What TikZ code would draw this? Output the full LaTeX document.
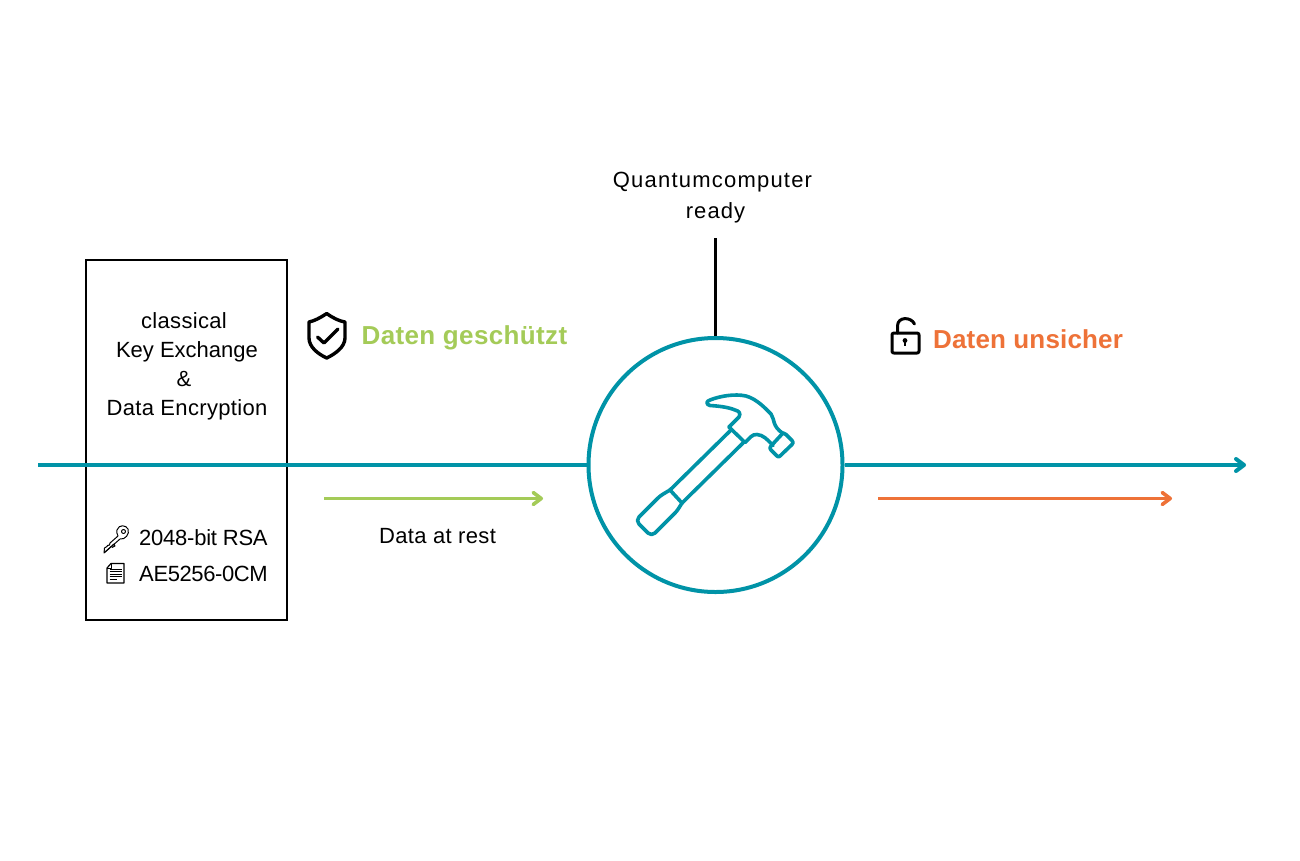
\documentclass[tikz,border=0pt]{standalone}
\usepackage{fontspec}
\setmainfont{Liberation Sans}
\usetikzlibrary{arrows.meta}
\definecolor{teal1}{HTML}{0093A7}
\definecolor{green1}{HTML}{A4CB58}
\definecolor{orange1}{HTML}{EE7238}
\newcommand{\lsp}[1]{\addfontfeature{LetterSpace=#1}}
\tikzset{
  x=1pt,y=-1pt,
  body/.style={font=\fontsize{22}{26}\selectfont,inner sep=0pt,text=black,anchor=base},
  big/.style={font=\fontsize{26}{30}\selectfont\bfseries,inner sep=0pt,anchor=base west},
  flow/.style={line width=4pt,teal1,-{Straight Barb[round,length=8pt,width=12pt,line width=4pt]}},
  plain/.style={line width=4pt,teal1},
  hint/.style={line width=3.6pt,-{Straight Barb[round,length=8pt,width=12pt,line width=3.6pt]}},
  hammer/.style={line width=3.6pt,teal1,line join=round,line cap=round},
  thinicon/.style={line width=1pt,black,line join=round},
  icon/.style={line width=3.4pt,black,line join=round,line cap=round},
}
\begin{document}
\begin{tikzpicture}
\useasboundingbox (0,0) rectangle (1300,860);
\fill[white] (0,0) rectangle (1300,860);

% key box
\node[draw=black,line width=2.8pt,minimum width=201pt,minimum height=360pt,inner sep=0pt] (box) at (186.5,440) {};

% connectors
\node[draw=teal1,line width=4pt,circle,minimum size=254pt,inner sep=0pt,fill=white] (qc) at (715.5,465) {};
\coordinate (start) at (38,465);
\coordinate (end) at (1246,465);
\coordinate (top) at (715.5,238);
\draw[plain] (start) -- (qc.west);
\draw[flow] (qc.east) -- (end);
\draw[line width=3.6pt,black] (top) -- (qc.north);

\coordinate (g1) at (324,498.5);
\coordinate (g2) at (543,498.5);
\coordinate (o1) at (878,498.5);
\coordinate (o2) at (1172,498.5);
\draw[hint,green1] (g1) -- (g2);
\draw[hint,orange1] (o1) -- (o2);

% texts
\node[body] (t1) at (712.5,187) {\lsp{5.5}Quantumcomputer};
\node[body] (t2) at (715.5,218) {\lsp{5}ready};
\node[body] (c1) at (184,328) {\lsp{1.5}classical};
\node[body] (c2) at (187,357) {Key Exchange};
\node[body] (c3) at (184,386) {\&};
\node[body] (c4) at (187,415) {\lsp{1.5}Data Encryption};
\node[body,anchor=base west] (k1) at (139,545) {\lsp{-1.1}2048-bit RSA};
\node[body,anchor=base west] (k2) at (139,581) {\lsp{-1.8}AE5256-0CM};
\node[body] (rest) at (437.5,543) {\lsp{1.6}Data at rest};
\node[big,text=green1] (safe) at (361.5,344) {\lsp{1.4}Daten geschützt};
\node[big,text=orange1] (unsafe) at (933,348) {\lsp{0.6}Daten unsicher};

% hammer
\draw[hammer]
  (729,427) -- (739,417) .. controls (741,413) and (739,411) .. (735,410)
  .. controls (728,407) and (718,406) .. (710,405.5)
  .. controls (706,404.5) and (706,401) .. (710,400)
  .. controls (720,396) and (735,393.5) .. (746,396)
  .. controls (757,399) and (766,409) .. (771,414)
  .. controls (775,420) and (772,426) .. (783,433.5);
\draw[hammer] (729,427) -- (745,442.5)
  .. controls (750,438) and (752,434) .. (757,434.5)
  .. controls (763,435) and (767,439) .. (773,445.5);
\draw[hammer] (783,433) -- (786,434.5) -- (792,440.5) .. controls (793.5,442) and (793.5,443) .. (792,444.5)
  -- (780,456) .. controls (779,457) and (778,457) .. (777,456)
  -- (771,450) .. controls (769.5,448.5) and (769.5,447.5) .. (771,446) -- cycle;
\draw[hammer] (731,430) -- (670,490);
\draw[hammer] (743,443) -- (682,503);
\draw[hammer] (670,490) -- (682,503);
\draw[hammer] (670,490) .. controls (665,493) and (661,495) .. (658,498)
  -- (639,517) .. controls (637,519) and (637,522) .. (639,524)
  -- (648,533) .. controls (650,535) and (653,535) .. (655,533)
  -- (675,513) .. controls (678,510) and (680,506) .. (682,503);

% shield
\draw[icon] (326.7,313.5) .. controls (320,318) and (314,321) .. (309,322)
  -- (309,338) .. controls (309,347) and (318,354) .. (326.7,358)
  .. controls (335,354) and (345,347) .. (345,338)
  -- (345,322) .. controls (339,321) and (333,318) .. (326.7,313.5) -- cycle;
\draw[icon] (317.5,337) -- (324,343) -- (338,329);

% lock
\draw[icon,line width=3pt] (894,333) -- (917,333) .. controls (918.5,333) and (919,334) .. (919,335)
  -- (919,351) .. controls (919,352.5) and (918.5,353) .. (917,353)
  -- (894,353) .. controls (892.5,353) and (892,352.5) .. (892,351)
  -- (892,335) .. controls (892,334) and (892.5,333) .. (894,333) -- cycle;
\draw[icon,line width=3pt] (897.5,333) -- (897.5,326) .. controls (897.5,316.5) and (911,316.5) .. (914.5,324);
\fill[black] (905,340.5) circle (2.4pt);
\fill[black] (904,341) rectangle (906,346);

% key icon
\draw[thinicon] (117,530) .. controls (119,524) and (126,525) .. (128,529)
  .. controls (130,534) and (125,540) .. (120,539)
  -- (104,553) -- (104.5,548) -- (107,546.5) -- (107.5,545.5) -- (109.5,545)
  -- (110,543) -- (118,536) .. controls (117,534) and (116.5,532) .. (117,530) -- cycle;
\draw[thinicon] (123.5,531.5) circle (2pt);
\draw[thinicon] (105,552) -- (114,544) -- (115,546) -- (112,547.5);

% doc icon
\draw[thinicon,line width=1.2pt] (111,563.5) -- (124,563.5) -- (124,583) -- (107,583) -- (107,568) -- cycle;
\draw[thinicon] (107,568) -- (111,568) -- (111,563.5);
\foreach \y/\x in {569/121.5,571.5/121.5,574/121.5,576.5/121.5,579/117}{
  \draw[line width=1pt,black] (109.5,\y) -- (\x,\y);
}
\end{tikzpicture}
\end{document}
